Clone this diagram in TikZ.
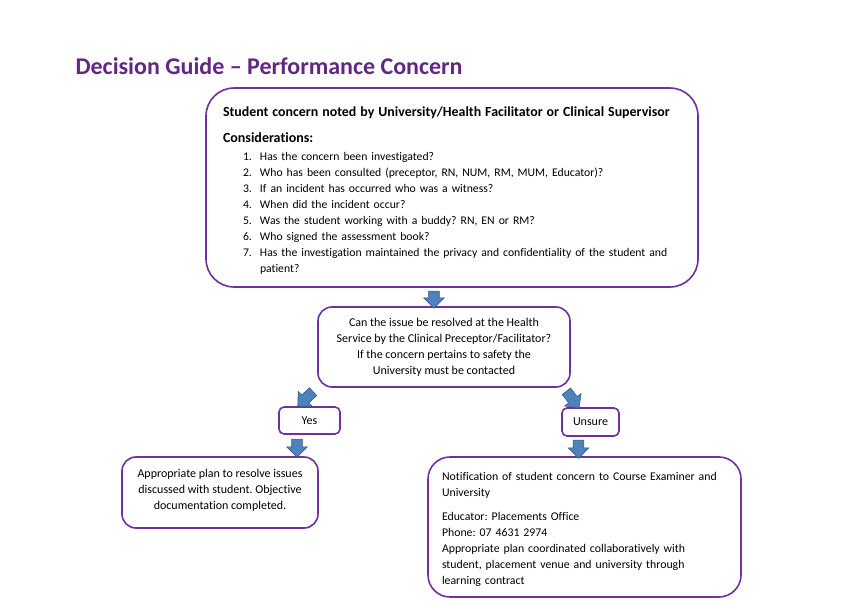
\documentclass[tikz,border=0pt]{standalone}
\usepackage{fontspec}
\setmainfont{Carlito}[Ligatures=CommonOff]
\usetikzlibrary{positioning,calc,shapes.arrows}
\definecolor{boxpurple}{RGB}{112,48,160}
\definecolor{titlepurple}{RGB}{96,40,132}
\definecolor{arrowblue}{RGB}{79,129,189}
\definecolor{arrowedge}{RGB}{56,93,138}
\newcommand{\itm}[2]{\hspace*{20pt}\makebox[17pt][l]{#1.}#2}
\frenchspacing

\begin{document}
\begin{tikzpicture}[x=1pt,y=-1pt,
   box/.style={draw=boxpurple,line width=1.6pt,fill=white,inner sep=0pt,font=\fontsize{12}{16}\selectfont},
   blockarrow/.style={single arrow,draw=arrowedge,fill=arrowblue,line width=0.6pt,inner xsep=0pt,inner ysep=5pt,
      single arrow head extend=5pt,single arrow tip angle=90,sloped,allow upside down}]
   \useasboundingbox (0,0) rectangle (850,601);
   \node [anchor=west,text=titlepurple,font=\fontsize{24}{28}\selectfont\bfseries] (title) at (72,66) {Decision Guide – Performance Concern};
   % main boxes
   \node [box,rounded corners=28pt,minimum width=492pt,minimum height=199pt,text width=458pt,align=left] (concern) at (452,187.5) {%
      {\fontsize{13.9}{16}\selectfont\bfseries\rule{0pt}{16.5pt}Student concern noted by University/Health Facilitator or Clinical Supervisor\par}
      \vspace{10pt}
      {\fontsize{14}{16}\selectfont\bfseries Considerations:\par}
      \vspace{2pt}
      {\fontsize{11.7}{16}\selectfont
      \itm{1}{Has the concern been investigated?}\\
      \itm{2}{Who has been consulted (preceptor, RN, NUM, RM, MUM, Educator)?}\\
      \itm{3}{If an incident has occurred who was a witness?}\\
      \itm{4}{When did the incident occur?}\\
      \itm{5}{Was the student working with a buddy? RN, EN or RM?}\\
      \itm{6}{Who signed the assessment book?}\\
      \itm{7}{Has the investigation maintained the privacy and confidentiality of the student and}\\
      \hspace*{37pt}patient?\par}};
   \node [box,rounded corners=14pt,minimum width=252pt,minimum height=80pt,align=center] (resolve) at (444,347) {Can the issue be resolved at the Health\\Service by the Clinical Preceptor/Facilitator?\\If the concern pertains to safety the\\University must be contacted};
   \node [box,rounded corners=5pt,minimum width=61pt,minimum height=27pt] (yes) at (309.5,420.5) {Yes};
   \node [box,rounded corners=5pt,minimum width=57pt,minimum height=28pt] (unsure) at (590.5,422) {Unsure};
   \node [box,rounded corners=14pt,minimum width=196pt,minimum height=71pt,align=center] (plan) at (220,492.5) {Appropriate plan to resolve issues\\discussed with student. Objective\\documentation completed.\\[-10pt]};
   \node [box,rounded corners=22pt,minimum width=313pt,minimum height=140pt,text width=285pt,align=left,font=\fontsize{11.8}{16}\selectfont] (notify) at (584.5,527) {%
      \rule{0pt}{13pt}Notification of student concern to Course Examiner and\\University\\[8pt]Educator: Placements Office\\Phone: 07 4631 2974\\Appropriate plan coordinated collaboratively with\\student, placement venue and university through\\learning contract};
   % block arrows
   \coordinate (c1) at ($(concern.south)+(-18,0)$);
   \coordinate (y1) at ($(yes.south)+(-12.5,0)$);
   \coordinate (u1) at ($(unsure.south)+(-12,0)$);
   \path (c1) -- (c1 |- resolve.north) node [blockarrow,minimum height=17pt,midway] (a1) {};
   \path (resolve.south west) -- ($(yes.north)+(-12,0)$) node [blockarrow,minimum height=21pt,midway] (a2) {};
   \path ($(resolve.south east)+(-7,0)$) -- ($(unsure.north)+(-12,0)$) node [blockarrow,minimum height=21pt,midway] (a3) {};
   \path (y1) -- (y1 |- plan.north) node [blockarrow,minimum height=18pt,midway] (a4) {};
   \path (u1) -- (u1 |- notify.north) node [blockarrow,minimum height=18pt,midway] (a5) {};
\end{tikzpicture}
\end{document}
